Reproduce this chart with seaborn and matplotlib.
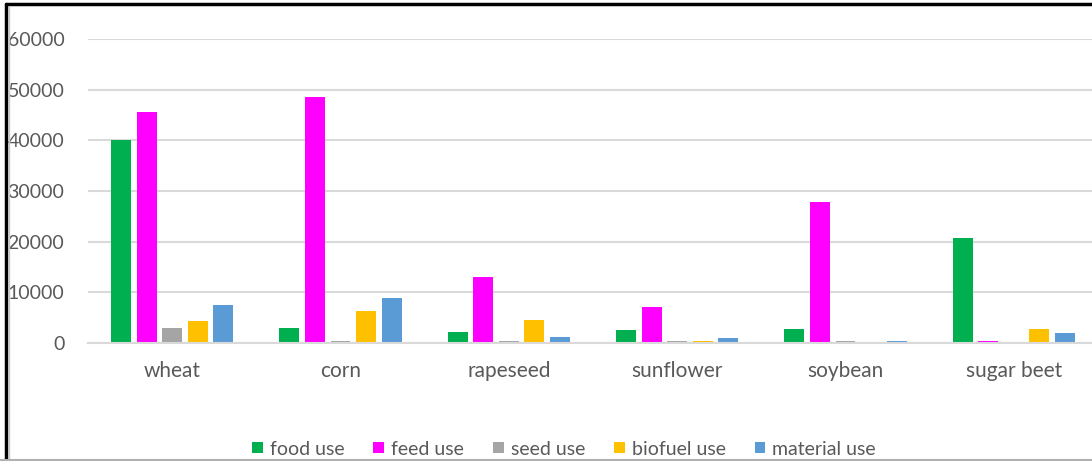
import pandas as pd
import seaborn as sns
import matplotlib.pyplot as plt
from matplotlib.lines import Line2D

# values
crops = ['wheat', 'corn', 'rapeseed', 'sunflower', 'soybean', 'sugar beet']
uses = ['food use', 'feed use', 'seed use', 'biofuel use', 'material use']
food_use = [40000, 3000, 2100, 2600, 2700, 20700]
feed_use = [45500, 48500, 13000, 7100, 27800, 400]
seed_use = [2900, 400, 400, 400, 400, 0]
biofuel_use = [4300, 6300, 4600, 300, 0, 2800]
material_use = [7500, 8800, 1100, 1000, 300, 1900]
colors = ['#00B050', '#FF00FF', '#A5A5A5', '#FFC000', '#5B9BD5']

df = pd.DataFrame({'crop': crops, 'food use': food_use, 'feed use': feed_use,
                   'seed use': seed_use, 'biofuel use': biofuel_use,
                   'material use': material_use})
long = df.melt(id_vars='crop', var_name='use', value_name='amount')

sns.set_style('white')
plt.rcParams['font.family'] = ['Lato', 'DejaVu Sans']

fig = plt.figure(figsize=(10.92, 4.61), dpi=100)
ax = fig.add_axes([88 / 1092, 118 / 461, 1010 / 1092, 304 / 461])

sns.barplot(data=long, x='crop', y='amount', hue='use', order=crops, hue_order=uses,
            palette=colors, saturation=1, width=0.76, gap=0.22, ax=ax, linewidth=0)

ax.set_xlim(-0.5, 5.5)
ax.set_ylim(0, 60000)
ax.set_yticks(range(0, 60001, 10000))
ax.yaxis.grid(True, color='#D9D9D9', linewidth=1.5)
ax.set_axisbelow(True)
for s in ['top', 'right', 'left']:
    ax.spines[s].set_visible(False)
ax.spines['bottom'].set_color('#D9D9D9')
ax.spines['bottom'].set_linewidth(1.5)
ax.set_xlabel('')
ax.set_ylabel('')
ax.tick_params(axis='y', length=0, pad=17, labelsize=14, labelcolor='#595959')
ax.tick_params(axis='x', length=0, pad=13, labelsize=15, labelcolor='#595959')

handles, labels = ax.get_legend_handles_labels()
ax.get_legend().remove()
fig.legend(handles, labels, loc='center', bbox_to_anchor=(564 / 1092, 12 / 461), ncol=5,
           frameon=False, fontsize=14, labelcolor='#595959', handlelength=0.55,
           handleheight=0.55, handletextpad=0.35, columnspacing=1.5)

# screenshot frame
fig.add_artist(Line2D([6 / 1092, 6 / 1092], [0, 1 - 4 / 461], color='black', linewidth=2.5,
                      transform=fig.transFigure))
fig.add_artist(Line2D([6 / 1092, 1], [1 - 4 / 461, 1 - 4 / 461], color='black', linewidth=2.5,
                      transform=fig.transFigure))
fig.add_artist(Line2D([9 / 1092, 9 / 1092], [0, 1 - 6 / 461], color='#C8C8C8', linewidth=1,
                      transform=fig.transFigure))
fig.add_artist(Line2D([0, 1], [1.5 / 461, 1.5 / 461], color='#B0B0B0', linewidth=1.5,
                      transform=fig.transFigure))

fig.savefig('out.png', dpi=100)
